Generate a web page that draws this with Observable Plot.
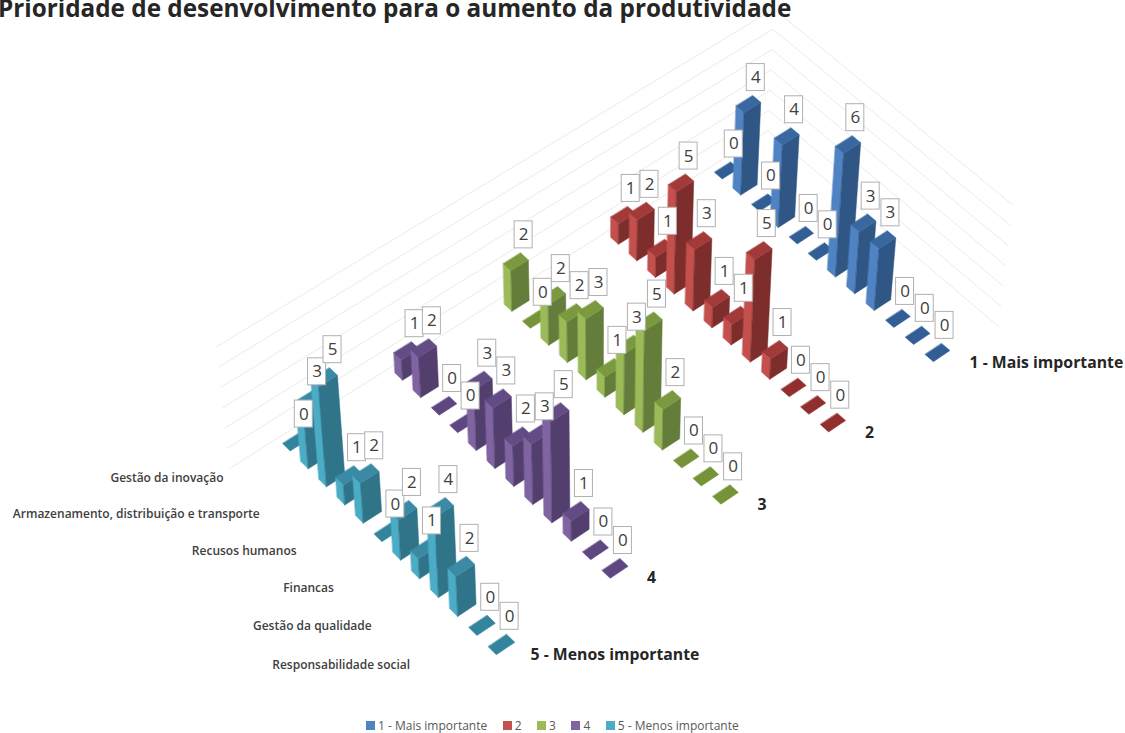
<!DOCTYPE html>
<html lang="pt">
<head>
<meta charset="utf-8">
<script src="https://cdn.jsdelivr.net/npm/d3@7"></script>
<script src="https://cdn.jsdelivr.net/npm/@observablehq/plot@0.6"></script>
<style>
  html, body { margin: 0; padding: 0; background: #fff; overflow: hidden; }
  #page { position: relative; width: 1125px; height: 733px; overflow: hidden; }
  #title {
    height: 0; margin: 0; white-space: nowrap; position: relative; z-index: 1;
    font: 700 24.3px/1 "Open Sans", sans-serif; color: #262626;
    transform: translate(-2px, -4px);
  }
  #legend { position: absolute; left: 366px; top: 709px; }
  #legend [class$="-swatch"] { margin-right: 15.5px !important; }
  #legend svg { margin-right: 3px !important; }
</style>
</head>
<body>
<div id="page">
  <h1 id="title">Prioridade de desenvolvimento para o aumento da produtividade</h1>
  <div id="chart"></div>
  <div id="legend"></div>
</div>
<script>
// Survey answers: number of replies per development area and priority rank.
const seriesNames = ["1 - Mais importante", "2", "3", "4", "5 - Menos importante"];
const rank1 = [0, 4, 0, 4, 0, 0, 6, 3, 3, 0, 0, 0];
const rank2 = [1, 2, 1, 5, 3, 1, 1, 5, 1, 0, 0, 0];
const rank3 = [2, 0, 2, 2, 3, 1, 3, 5, 2, 0, 0, 0];
const rank4 = [1, 2, 0, 0, 3, 3, 2, 3, 5, 1, 0, 0];
const rank5 = [0, 3, 5, 1, 2, 0, 2, 1, 4, 2, 0, 0];
const ranks = [rank1, rank2, rank3, rank4, rank5];

// The axis names only every other one of the twelve areas.
const areaLabels = [
  "Gestão da inovação",
  "Armazenamento, distribuição e transporte",
  "Recusos humanos",
  "Financas",
  "Gestão da qualidade",
  "Responsabilidade social"
];
const areaLabelStep = 2;
const areaCount = rank1.length;
const levels = [0, 1, 2, 3, 4, 5, 6];

// Shades for each series: side, front and top faces of a column, and flat tiles for zeros.
const sideColors = ["#4f83c3", "#c4504d", "#9bbb59", "#8064a2", "#4bacc6"];
const frontColors = ["#2f5685", "#7d2d2c", "#657d3b", "#533f6d", "#30748a"];
const topColors = ["#38689f", "#a13a38", "#7b9a40", "#634b85", "#3a8aa5"];
const tileColors = ["#315f95", "#922f2e", "#769339", "#5e4680", "#33849d"];

// Perspective camera: the floor is a quadrilateral seen from above, and
// uprights lean away from a vertical vanishing line.
const floorQuad = [[726, 170], [937, 352], [501, 644], [295, 441]];
const gridStep = 20.3;
const columnStep = (series) => 20.6 - 0.15 * series;
const leanOrigin = 598;
const leanRate = 0.00575;
const halfWidth = 0.21;
const halfDepth = 0.08;

const homography = (() => {
  const [[x0, y0], [x1, y1], [x2, y2], [x3, y3]] = floorQuad;
  const dx1 = x1 - x2, dx2 = x3 - x2, sx = x0 - x1 + x2 - x3;
  const dy1 = y1 - y2, dy2 = y3 - y2, sy = y0 - y1 + y2 - y3;
  const den = dx1 * dy2 - dx2 * dy1;
  const g = (sx * dy2 - dx2 * sy) / den, h = (dx1 * sy - sx * dy1) / den;
  return {
    a: x1 - x0 + g * x1, b: x3 - x0 + h * x3, c: x0,
    d: y1 - y0 + g * y1, e: y3 - y0 + h * y3, f: y0, g, h
  };
})();

// Maps (series, area, value) in chart space to plane coordinates.
function project(series, area, value = 0, step = gridStep) {
  const { a, b, c, d, e, f, g, h } = homography;
  const u = area / (areaCount - 1), v = series / (seriesNames.length - 1);
  const w = g * u + h * v + 1;
  const fx = (a * u + b * v + c) / w, fy = (d * u + e * v + f) / w;
  return [fx + (fx - leanOrigin) * leanRate * value, fy - step * value];
}

// Column faces, pushed back to front so that nearer columns cover farther ones.
const faces = [];
ranks.forEach((values, s) => values.forEach((value, c) => {
  const corner = (ds, dc, v) => project(s + ds, c + dc, v, columnStep(s));
  const add = (part, color, pts) => pts.forEach(([x, y]) => faces.push({ id: `${s}-${c}-${part}`, color, x, y }));
  const lf = [halfDepth, -halfWidth], fr = [halfDepth, halfWidth], rt = [-halfDepth, halfWidth], bk = [-halfDepth, -halfWidth];
  if (value > 0) {
    add("side", sideColors[s], [corner(...lf, 0), corner(...fr, 0), corner(...fr, value), corner(...lf, value)]);
    add("front", frontColors[s], [corner(...fr, 0), corner(...rt, 0), corner(...rt, value), corner(...fr, value)]);
  }
  add("top", value > 0 ? topColors[s] : tileColors[s], [lf, fr, rt, bk].map((q) => corner(...q, value)));
}));

// Value labels sit just above the far corner of each column top.
const boxW = 18, boxH = 27;
const labels = ranks.flatMap((values, s) => values.map((value, c) => {
  const [x, y] = project(s - halfDepth, c - halfWidth, value, columnStep(s));
  return { value, x: x + 3, y: y - 18 };
}));

// Wall gridlines run along both back edges of the floor at each value level.
const gridRows = levels.flatMap((level) => [
  project(seriesNames.length - 0.5, -0.5, level),
  project(-0.5, -0.5, level),
  project(-0.5, areaCount - 0.5, level)
].map(([x, y]) => ({ level, x, y })));

const areaTicks = areaLabels.map((text, i) => {
  const [x, y] = project(seriesNames.length - 1, i * areaLabelStep);
  return { text, x, y: y + i * 0.6 };
});
const seriesTicks = seriesNames.map((text, s) => {
  const [x, y] = project(s, areaCount - 1);
  return { text, x: x + (s === seriesNames.length - 1 ? 29 : 32), y };
});

const font = '"Open Sans", sans-serif';
const chart = Plot.plot({
  width: 1125,
  height: 700,
  margin: 0,
  x: { domain: [0, 1125], range: [0, 1125], axis: null },
  y: { domain: [0, 700], range: [0, 700], axis: null },
  marks: [
    Plot.line(gridRows, { x: "x", y: "y", z: "level", stroke: "#ebebeb", strokeWidth: 1 }),
    Plot.line(faces, {
      x: "x", y: "y", z: "id",
      fill: { value: "color", scale: null },
      stroke: { value: "color", scale: null },
      strokeWidth: 0.5,
      curve: "linear-closed"
    }),
    Plot.rect(labels, {
      x1: (d) => d.x - boxW / 2, x2: (d) => d.x + boxW / 2,
      y1: (d) => d.y - boxH / 2, y2: (d) => d.y + boxH / 2,
      fill: "white", stroke: "#b0b0b0", strokeWidth: 1
    }),
    Plot.text(labels, {
      x: "x", y: "y", text: (d) => String(d.value),
      fontFamily: font, fontSize: 17, fill: "#404040"
    }),
    Plot.text(areaTicks, {
      x: "x", y: "y", text: "text", textAnchor: "end", dx: -72, dy: 36.5,
      fontFamily: font, fontSize: 12, fontWeight: 600, fill: "#404040"
    }),
    Plot.text(seriesTicks, {
      x: "x", y: "y", text: "text", textAnchor: "start", dy: 10,
      fontFamily: font, fontSize: 15.8, fontWeight: 700, fill: "#262626"
    })
  ]
});
document.getElementById("chart").appendChild(chart);

const legend = Plot.legend({
  color: { type: "ordinal", domain: seriesNames, range: sideColors },
  swatchSize: 9,
  style: { fontFamily: font, fontSize: "12px", color: "#595959", margin: 0 }
});
document.getElementById("legend").appendChild(legend);
</script>
</body>
</html>
